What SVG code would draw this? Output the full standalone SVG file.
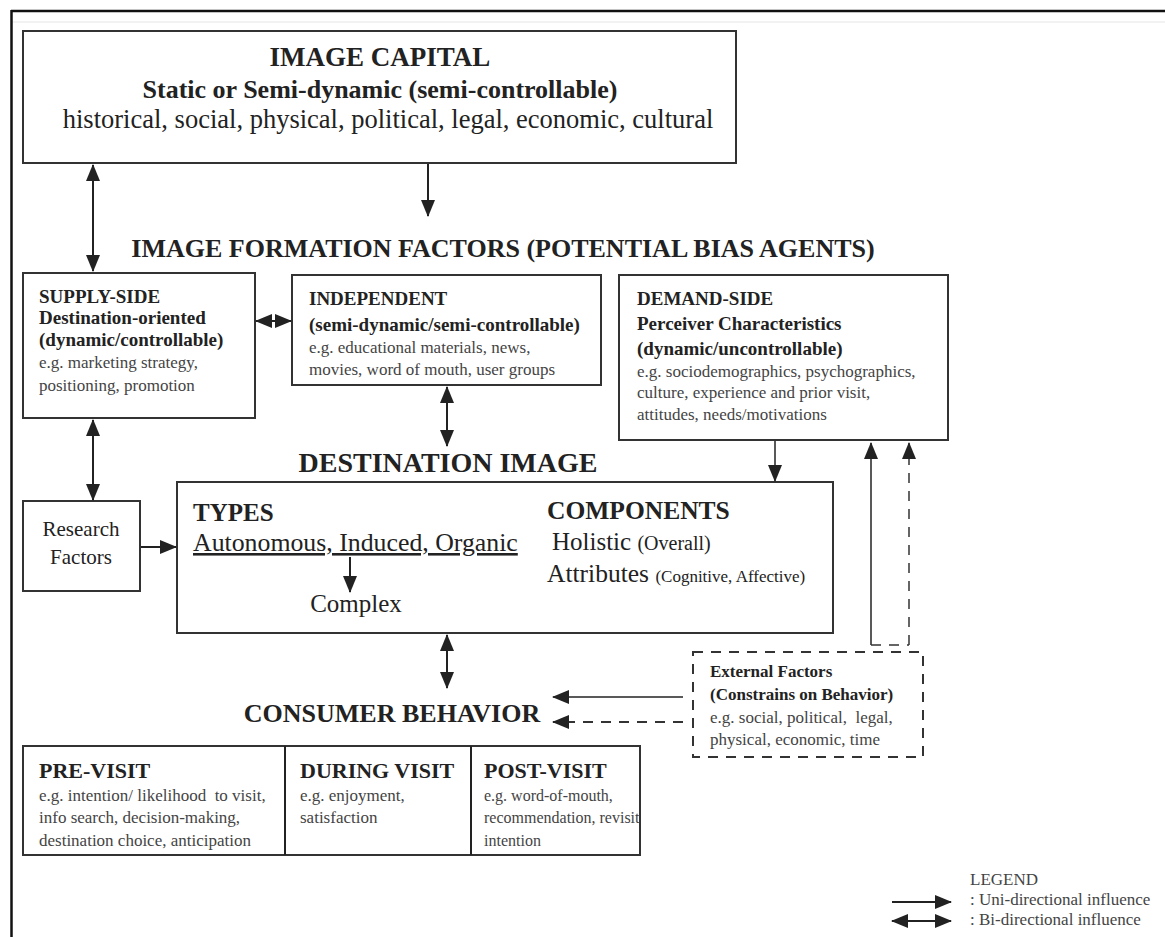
<svg xmlns="http://www.w3.org/2000/svg" width="1165" height="937" viewBox="0 0 1165 937">
<defs>
<marker id="ah" markerUnits="userSpaceOnUse" markerWidth="18" markerHeight="16" refX="16" refY="8" orient="auto-start-reverse" viewBox="0 0 18 16">
<path d="M0,1 L17,8 L0,15 Z" fill="#222"/>
</marker>
<style>
.box{fill:#fff;stroke:#333;stroke-width:2}
.dbox{fill:#fff;stroke:#333;stroke-width:2;stroke-dasharray:10,8}
.ln{stroke:#222;stroke-width:2;fill:none}
.dln{stroke:#333;stroke-width:2;fill:none;stroke-dasharray:10,8}
text{font-family:"Liberation Serif","Times New Roman",serif;fill:#222}
.b{font-weight:bold}
.s{font-size:17px;fill:#444}
.s16{font-size:16px;fill:#444}
.sb{font-size:19px;font-weight:bold}
.h{font-size:26px;font-weight:bold}
</style>
</defs>
<rect width="1165" height="937" fill="#fff"/>
<line x1="11" y1="11" x2="1165" y2="11" stroke="#111" stroke-width="2.5"/>
<line x1="12" y1="22" x2="1165" y2="22" stroke="#eee" stroke-width="1.5"/>
<line x1="11.5" y1="10" x2="11.5" y2="937" stroke="#111" stroke-width="2.5"/>

<g id="image-capital">
<rect class="box" x="23" y="31" width="713" height="132"/>
<text x="380" y="66" text-anchor="middle" class="b" font-size="27">IMAGE CAPITAL</text>
<text x="380" y="98" text-anchor="middle" class="b" font-size="26">Static or Semi-dynamic (semi-controllable)</text>
<text x="388" y="128" text-anchor="middle" font-size="26.5">historical, social, physical, political, legal, economic, cultural</text>
</g>

<g id="formation-title">
<text x="503" y="257" text-anchor="middle" class="h">IMAGE FORMATION FACTORS (POTENTIAL BIAS AGENTS)</text>
</g>

<g id="supply-side">
<rect class="box" x="23" y="273" width="232" height="145"/>
<text x="39" y="303" class="sb">SUPPLY-SIDE</text>
<text x="39" y="324" class="sb">Destination-oriented</text>
<text x="39" y="346" class="sb">(dynamic/controllable)</text>
<text x="39" y="368" class="s">e.g. marketing strategy,</text>
<text x="39" y="391" class="s">positioning, promotion</text>
</g>

<g id="independent">
<rect class="box" x="292" y="275" width="309" height="110"/>
<text x="309" y="305" class="sb">INDEPENDENT</text>
<text x="309" y="331" class="sb">(semi-dynamic/semi-controllable)</text>
<text x="309" y="353" class="s">e.g. educational materials, news,</text>
<text x="309" y="375" class="s">movies, word of mouth, user groups</text>
</g>

<g id="demand-side">
<rect class="box" x="619" y="275" width="329" height="165"/>
<text x="637" y="305" class="sb">DEMAND-SIDE</text>
<text x="637" y="330" class="sb">Perceiver Characteristics</text>
<text x="637" y="355" class="sb">(dynamic/uncontrollable)</text>
<text x="637" y="377" class="s">e.g. sociodemographics, psychographics,</text>
<text x="637" y="398" class="s">culture, experience and prior visit,</text>
<text x="637" y="420" class="s">attitudes, needs/motivations</text>
</g>

<g id="destination-title">
<text x="448" y="472" text-anchor="middle" class="b" font-size="28">DESTINATION IMAGE</text>
</g>

<g id="research-factors">
<rect class="box" x="23" y="501" width="117" height="90"/>
<text x="81" y="536" text-anchor="middle" font-size="21" fill="#333">Research</text>
<text x="81" y="564" text-anchor="middle" font-size="21" fill="#333">Factors</text>
</g>

<g id="destination-image">
<rect class="box" x="177" y="482" width="656" height="151"/>
<text x="193" y="521" class="b" font-size="25">TYPES</text>
<text x="193" y="551" font-size="25.8" text-decoration="underline">Autonomous, Induced, Organic</text>
<text x="356" y="612" text-anchor="middle" font-size="25">Complex</text>
<text x="547" y="519" class="b" font-size="25.5">COMPONENTS</text>
<text x="552" y="550" font-size="25">Holistic <tspan font-size="20">(Overall)</tspan></text>
<text x="547" y="582" font-size="25.5">Attributes <tspan font-size="17">(Cognitive, Affective)</tspan></text>
</g>

<g id="external-factors">
<rect class="dbox" x="693" y="652" width="230" height="105"/>
<text x="710" y="677" class="b" font-size="17">External Factors</text>
<text x="710" y="700" class="b" font-size="17">(Constrains on Behavior)</text>
<text x="710" y="723" class="s" xml:space="preserve">e.g. social, political,  legal,</text>
<text x="710" y="745" class="s">physical, economic, time</text>
</g>

<g id="consumer-title">
<text x="392" y="722" text-anchor="middle" class="h">CONSUMER BEHAVIOR</text>
</g>

<g id="consumer-stages">
<rect class="box" x="23" y="746" width="617" height="109"/>
<line class="ln" x1="285" y1="746" x2="285" y2="855" stroke="#333"/>
<line class="ln" x1="471" y1="746" x2="471" y2="855" stroke="#333"/>
<text x="39" y="778" class="b" font-size="22">PRE-VISIT</text>
<text x="39" y="801" class="s" xml:space="preserve">e.g. intention/ likelihood  to visit,</text>
<text x="39" y="823" class="s">info search, decision-making,</text>
<text x="39" y="846" class="s">destination choice, anticipation</text>
<text x="300" y="778" class="b" font-size="22">DURING VISIT</text>
<text x="300" y="801" class="s">e.g. enjoyment,</text>
<text x="300" y="823" class="s">satisfaction</text>
<text x="484" y="778" class="b" font-size="22">POST-VISIT</text>
<text x="484" y="801" class="s16">e.g. word-of-mouth,</text>
<text x="484" y="823" class="s16">recommendation, revisit</text>
<text x="484" y="846" class="s16">intention</text>
</g>

<g id="legend">
<text x="970" y="885" class="s">LEGEND</text>
<text x="970" y="905" class="s">: Uni-directional influence</text>
<text x="970" y="925" class="s">: Bi-directional influence</text>
<line class="ln" x1="892" y1="902" x2="951" y2="902" marker-end="url(#ah)"/>
<line class="ln" x1="892" y1="921" x2="951" y2="921" marker-start="url(#ah)" marker-end="url(#ah)"/>
</g>

<g id="connectors">
<line class="ln" x1="93" y1="165" x2="93" y2="271" marker-start="url(#ah)" marker-end="url(#ah)"/>
<line class="ln" x1="428" y1="164" x2="428" y2="216" marker-end="url(#ah)"/>
<line class="ln" x1="256" y1="321" x2="291" y2="321" marker-start="url(#ah)" marker-end="url(#ah)"/>
<line class="ln" x1="93" y1="420" x2="93" y2="500" marker-start="url(#ah)" marker-end="url(#ah)"/>
<line class="ln" x1="447" y1="387" x2="447" y2="446" marker-start="url(#ah)" marker-end="url(#ah)"/>
<line class="ln" x1="141" y1="547" x2="176" y2="547" marker-end="url(#ah)"/>
<line class="ln" x1="350" y1="557" x2="350" y2="592" marker-end="url(#ah)"/>
<line class="ln" x1="775" y1="441" x2="775" y2="481" marker-end="url(#ah)" style="stroke-width:1.5"/>
<line class="ln" x1="871" y1="645" x2="871" y2="443" marker-end="url(#ah)" style="stroke-width:1.5"/>
<line class="dln" x1="909" y1="645" x2="909" y2="443" marker-end="url(#ah)" style="stroke-width:1.5"/>
<line class="dln" x1="871" y1="645" x2="909" y2="645" style="stroke-width:1.5"/>
<line class="ln" x1="447" y1="635" x2="447" y2="688" marker-start="url(#ah)" marker-end="url(#ah)"/>
<line class="ln" x1="683" y1="697" x2="553" y2="697" marker-end="url(#ah)" style="stroke-width:1.5"/>
<line class="dln" x1="683" y1="722" x2="553" y2="722" marker-end="url(#ah)"/>
</g>
</svg>
